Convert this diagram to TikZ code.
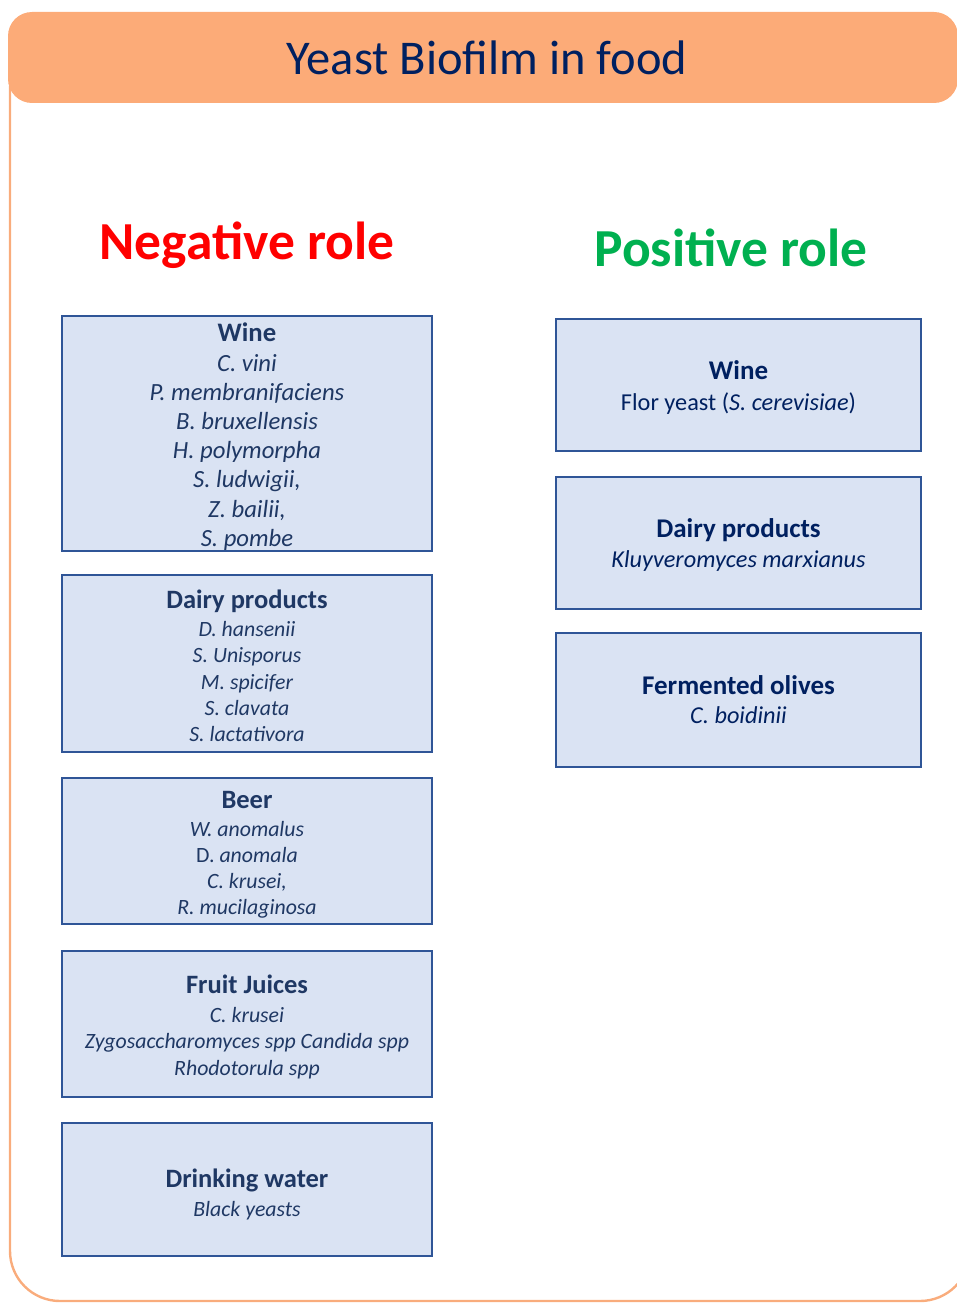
\documentclass[tikz,border=0pt]{standalone}
\usepackage{fontspec}
\setmainfont{Carlito}
\definecolor{frameorange}{HTML}{F9AC7C}
\definecolor{headfill}{HTML}{FCAB78}
\definecolor{navy}{HTML}{002060}
\definecolor{boxtext}{HTML}{1F3864}
\definecolor{boxfill}{HTML}{DAE3F3}
\definecolor{boxline}{HTML}{2F5597}
\definecolor{posgreen}{HTML}{00B050}
% invisible strut that adds headroom above a box's first line
\newcommand{\headroom}[1]{\rule{0pt}{#1pt}}
\begin{document}
\begin{tikzpicture}[x=1pt,y=-1pt,
  catbox/.style={draw=boxline, fill=boxfill, line width=2.6pt, inner sep=0pt,
    align=center, text=boxtext},
  poscat/.style={catbox, minimum width=365pt, text=navy},
  negcat/.style={catbox, minimum width=370pt},
  heading/.style={font=\bfseries\fontsize{53.5}{60}\selectfont}
]
\useasboundingbox (0,0) rectangle (957,1303);

% outer frame and header band
\draw[frameorange, line width=2.4pt, rounded corners=50pt] (10,40) rectangle (970,1301);
\fill[headfill, rounded corners=24pt] (8,12) rectangle (958,103);
\node[text=navy, font=\fontsize{48.5}{56}\selectfont] (title) at (487,58) {Yeast Biofilm in food};

% column headings
\node[heading, text=red] (neg) at (247,245) {Negative role};
\node[heading, text=posgreen] (pos) at (731,248) {Positive role};

% negative role boxes
\node[negcat, minimum height=235pt, font=\fontsize{24.7}{29.2}\selectfont] (negwine) at (247,433.5)
  {{\bfseries\fontsize{26.7}{29.2}\selectfont\headroom{25}Wine}\\ \itshape C. vini\\ \itshape P. membranifaciens\\
   \itshape B. bruxellensis\\ \itshape H. polymorpha\\ \itshape S. ludwigii,\\ \itshape Z. bailii,\\ \itshape S. pombe};

\node[negcat, minimum height=177pt, font=\fontsize{21.8}{26.3}\selectfont] (negdairy) at (247,663.5)
  {{\bfseries\fontsize{26.5}{26.3}\selectfont\headroom{23.5}Dairy products}\\[1.5pt] \itshape D. hansenii\\ \itshape S. Unisporus\\
   \itshape M. spicifer\\ \itshape S. clavata\\ \itshape S. lactativora};

\node[negcat, minimum height=146pt, font=\fontsize{21.8}{26.3}\selectfont] (negbeer) at (247,851)
  {{\bfseries\fontsize{26.5}{26.3}\selectfont\headroom{25}Beer}\\[1.5pt] \itshape W. anomalus\\ D. \itshape anomala\\
   \itshape C. krusei,\\ \itshape R. mucilaginosa};

\node[negcat, minimum height=146pt, font=\fontsize{21.8}{26.3}\selectfont] (negjuice) at (247,1024)
  {{\bfseries\fontsize{26.5}{26.3}\selectfont\headroom{24.5}Fruit Juices}\\[2.5pt] \itshape C. krusei\\
   \itshape Zygosaccharomyces spp Candida spp\\ \itshape Rhodotorula spp};

\node[negcat, minimum height=133pt, font=\fontsize{21.8}{29}\selectfont] (negwater) at (247,1189.5)
  {{\bfseries\fontsize{26.5}{29}\selectfont\headroom{27.5}Drinking water}\\ \itshape Black yeasts};

% positive role boxes
\node[poscat, minimum height=132pt, font=\fontsize{24.3}{31}\selectfont] (poswine) at (738.5,385)
  {{\bfseries\fontsize{27}{31}\selectfont\headroom{23}Wine}\\ Flor yeast (\textit{S. cerevisiae})};

\node[poscat, minimum height=132pt, font=\fontsize{24.3}{30}\selectfont] (posdairy) at (738.5,543)
  {{\bfseries\fontsize{27}{30}\selectfont\headroom{23}Dairy products}\\ \itshape Kluyveromyces marxianus};

\node[poscat, minimum height=134pt, font=\fontsize{24.3}{29}\selectfont] (posolive) at (738.5,700)
  {{\bfseries\fontsize{27}{29}\selectfont Fermented olives}\\ \itshape C. boidinii};
\end{tikzpicture}
\end{document}
